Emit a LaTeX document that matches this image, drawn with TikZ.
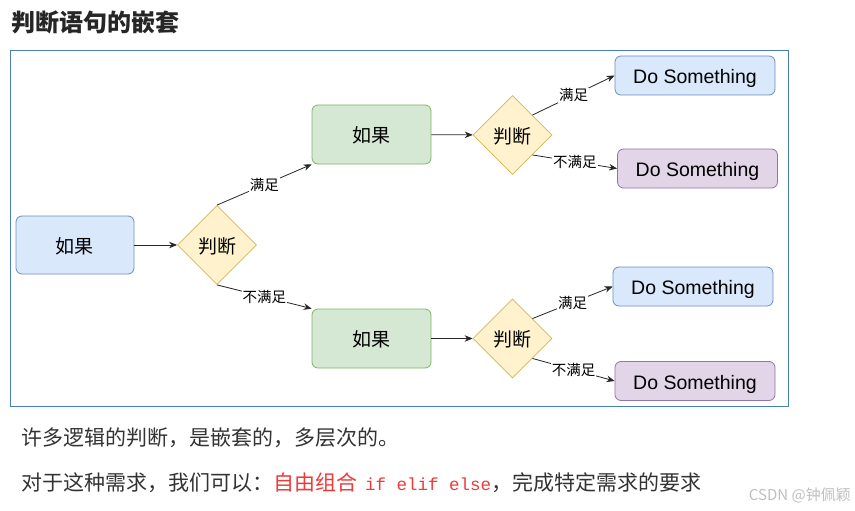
\documentclass[tikz,border=0pt]{standalone}
\usepackage{fontspec}
\setmainfont{Liberation Sans}
\newfontfamily\cjk{Noto Sans CJK SC}
\newfontfamily\mono{Liberation Mono}
\usetikzlibrary{shapes.geometric,arrows.meta}

\definecolor{bluefill}{HTML}{DAE8FC}
\definecolor{blueline}{HTML}{6C8EBF}
\definecolor{greenfill}{HTML}{D5E8D4}
\definecolor{greenline}{HTML}{82B366}
\definecolor{purplefill}{HTML}{E1D5E7}
\definecolor{purpleline}{HTML}{9673A6}
\definecolor{yellowfill}{HTML}{FFF2CC}
\definecolor{yellowline}{HTML}{D6B656}
\definecolor{framecol}{HTML}{4A7EBB}
\definecolor{textcol}{HTML}{333333}
\definecolor{hilite}{HTML}{F03A3A}

\tikzset{
  card/.style={draw, rounded corners=6pt, line width=0.8pt, inner sep=0pt},
  ifbox/.style={card, minimum width=119pt, minimum height=59pt,
    font=\cjk\fontsize{19}{21}\selectfont, text height=16.5pt, text depth=0pt},
  dobox/.style={card, minimum width=160pt, minimum height=39pt,
    font=\fontsize{19.5}{22}\selectfont, text height=16.5pt, text depth=0pt},
  bluecard/.style={fill=bluefill, draw=blueline},
  greencard/.style={fill=greenfill, draw=greenline},
  purplecard/.style={fill=purplefill, draw=purpleline},
  test/.style={diamond, aspect=1, draw=yellowline, fill=yellowfill, line width=0.8pt,
    minimum width=79pt, minimum height=79pt, inner sep=0pt,
    font=\cjk\fontsize{19}{21}\selectfont, text height=16.5pt, text depth=0pt},
  link/.style={draw=black!85, line width=0.8pt, -{Stealth[length=8pt,width=6.5pt]}},
  tag/.style={fill=white, inner sep=1pt, font=\cjk\fontsize{14.5}{16}\selectfont, text=black},
  note/.style={anchor=west, inner sep=0pt, text=textcol, font=\cjk\fontsize{21}{24}\selectfont},
}

\begin{document}
\begin{tikzpicture}[x=1pt, y=-1pt]
  \useasboundingbox (0,0) rectangle (855,511);
  \fill[white] (0,0) rectangle (855,511);

  % heading
  \node[anchor=west, inner sep=0pt, text=black!85, font=\cjk\bfseries\fontsize{24}{26}\selectfont] (title) at (11,22) {判断语句的嵌套};

  % frame around the flow chart
  \draw[framecol, line width=0.9pt] (10.5,50.5) rectangle (788.5,406.5);

  % first level
  \node[ifbox, bluecard, minimum width=118pt, minimum height=58pt] (if0) at (75,245) {如果};
  \node[test] (d0) at (217,245) {判断};

  % second level
  \node[ifbox, greencard] (ifA) at (371.5,134.5) {如果};
  \node[ifbox, greencard] (ifB) at (371.5,338.5) {如果};
  \node[test] (dA) at (512.5,135) {判断};
  \node[test] (dB) at (512.5,338.5) {判断};

  % results
  \node[dobox, bluecard] (rA1) at (695,75.5) {Do Something};
  \node[dobox, purplecard] (rA2) at (697.5,168.5) {Do Something};
  \node[dobox, bluecard] (rB1) at (693,286.5) {Do Something};
  \node[dobox, purplecard] (rB2) at (695,381) {Do Something};

  % connectors
  \draw[link] (if0) -- (d0);
  \draw[link] (d0.north) -- node[tag] {满足} (ifA.south west);
  \draw[link] (d0.south) -- node[tag] {不满足} (ifB.north west);
  \draw[link] (ifA) -- (dA);
  \draw[link] (ifB) -- (dB);
  \draw[link] (dA.north east) -- node[tag] {满足} (rA1.west);
  \draw[link] (dA.south east) -- node[tag] {不满足} (rA2.west);
  \draw[link] (dB.north east) -- node[tag] {满足} (rB1.west);
  \draw[link] (dB.south east) -- node[tag] {不满足} (rB2.west);

  % notes below the chart
  \node[note] (note1) at (21,438) {许多逻辑的判断，是嵌套的，多层次的。};
  \node[note] (note2) at (21,483)
    {对于这种需求，我们可以：{\color{hilite}自由组合\hspace{8pt}{\mono\fontsize{17.5}{20}\selectfont if elif else}}，完成特定需求的要求};

  % watermark
  \node[anchor=east, inner sep=0pt, text=black!25, font=\cjk\fontsize{15}{17}\selectfont] (mark) at (851,496) {CSDN @钟佩颖};
\end{tikzpicture}
\end{document}
